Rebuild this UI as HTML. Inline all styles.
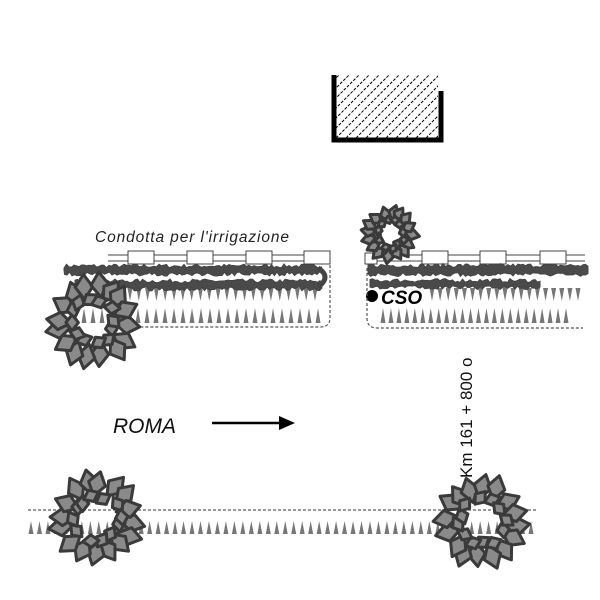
<!DOCTYPE html>
<html><head><meta charset="utf-8"><style>
html,body{margin:0;padding:0;background:#fff;width:600px;height:600px;overflow:hidden}
svg{display:block}
</style></head><body>
<svg id="s" width="600" height="600" viewBox="0 0 600 600" xmlns="http://www.w3.org/2000/svg">
<defs>
<clipPath id="bc"><rect x="336" y="75" width="102" height="63"/></clipPath>
</defs>
<g id="hatch" clip-path="url(#bc)" stroke="#000" stroke-width="1" stroke-dasharray="3,1.5"></g>
<path d="M334 75 V140 H441 V91" fill="none" stroke="#000" stroke-width="5"/>
<text x="95" y="242" font-family="Liberation Sans, sans-serif" font-style="italic" font-size="15.5" textLength="194" fill="#222">Condotta per l'irrigazione</text>
<text x="113" y="433" font-family="Liberation Sans, sans-serif" font-style="italic" font-size="21" fill="#111">ROMA</text>
<line x1="212" y1="423" x2="282" y2="423" stroke="#000" stroke-width="2.5"/>
<polygon points="295,423 279,416 279,430" fill="#000"/>
<circle cx="372" cy="296" r="6" fill="#000"/>
<text x="381" y="304" font-family="Liberation Sans, sans-serif" font-style="italic" font-weight="bold" font-size="19" fill="#000">CSO</text>
<text transform="translate(472,478) rotate(-90)" font-family="Liberation Sans, sans-serif" font-size="17" fill="#111">Km 161 + 800 o</text>
<g id="g"></g>
</svg>
<script>
var NS="http://www.w3.org/2000/svg",g=document.getElementById('g'),h=document.getElementById('hatch');
var seed=7;function rnd(){seed=(seed*16807)%2147483647;return seed/2147483647;}
function el(t,a,p){var e=document.createElementNS(NS,t);for(var k in a)e.setAttribute(k,a[k]);(p||g).appendChild(e);return e;}
for(var i=-80;i<120;i+=10){el('line',{x1:336+i,y1:138,x2:336+i+63,y2:75},h);}
el('line',{x1:28,y1:510,x2:536,y2:510,stroke:'#333','stroke-width':1,'stroke-dasharray':'3,2'});
el('path',{d:'M330 265 V318 Q330 327 320 327 H130',fill:'none',stroke:'#555','stroke-width':1.2,'stroke-dasharray':'3,2'});
el('path',{d:'M367 268 V318 Q367 328 377 328 H583',fill:'none',stroke:'#555','stroke-width':1.2,'stroke-dasharray':'3,2'});
function up(x0,x1,n,yb,ht,w){for(var i=0;i<n;i++){var x=x0+(x1-x0)*i/(n-1);el('polygon',{points:(x-w/2)+','+yb+' '+(x+w/2)+','+yb+' '+x+','+(yb-ht),fill:'#777'});}}
function dn(x0,x1,n,yt,ht,w){for(var i=0;i<n;i++){var x=x0+(x1-x0)*i/(n-1);el('polygon',{points:(x-w/2)+','+yt+' '+(x+w/2)+','+yt+' '+x+','+(yt+ht),fill:'#777'});}}
up(31,531,60,534,13,5);
up(84,318,27,323,15,5);
dn(130,315,22,288,13,5);
up(383,566,24,323,15,5);
dn(432,578,19,288,13,5);
function pipe(x0,x1,boxes){el('line',{x1:x0,y1:255,x2:x1,y2:255,stroke:'#444','stroke-width':1});el('line',{x1:x0,y1:261,x2:x1,y2:261,stroke:'#444','stroke-width':1});boxes.forEach(function(b){el('rect',{x:b,y:251,width:26,height:13,fill:'#fff',stroke:'#444','stroke-width':1});});}
pipe(108,330,[128,187,246,304]);
pipe(365,585,[422,480,540]);
el('rect',{x:365,y:253,width:12,height:11,fill:'#fff',stroke:'#444','stroke-width':1});
function band(x0,x1,y,th){var d='M'+x0+' '+y;for(var x=x0;x<=x1;x+=2.5){d+=' L'+x+' '+(y-th/2-rnd()*4);}for(var x=x1;x>=x0;x-=2.5){d+=' L'+x+' '+(y+th/2+rnd()*4);}d+='Z';el('path',{d:d,fill:'#4a4a4a',stroke:'#444','stroke-width':1});}
band(64,322,270,4);band(75,322,285,4);
el('path',{d:'M318 268 Q332 277 318 287',fill:'none',stroke:'#444','stroke-width':5});
band(368,588,270,5);band(370,540,284,3);
function leaf(x,y,a,L,W){var ca=Math.cos(a),sa=Math.sin(a);var pts=[[x+ca*L/2,y+sa*L/2],[x-sa*W,y+ca*W],[x-ca*L/2,y-sa*L/2],[x+sa*W,y-ca*W]];el('polygon',{points:pts.map(function(p){return p[0].toFixed(1)+','+p[1].toFixed(1)}).join(' '),fill:'#8a8a8a',stroke:'#3a3a3a','stroke-width':3,'stroke-linejoin':'round'});}
function wreath(cx,cy,s){var n=16;for(var i=0;i<n;i++){var a=2*Math.PI*i/n+rnd()*0.2;var rr=(26+rnd()*4)*s;leaf(cx+rr*Math.cos(a),cy+rr*Math.sin(a),a+(rnd()-0.5)*0.6,20*s,7*s);}
var m=12;for(var i=0;i<m;i++){var a=2*Math.PI*i/m+0.25+rnd()*0.3;var rr=(16+rnd()*4)*s;leaf(cx+rr*Math.cos(a),cy+rr*Math.sin(a),a+1.2+(rnd()-0.5),13*s,5*s);}}
wreath(93,321,1.25);
wreath(97,518,1.25);
wreath(482,522,1.25);
wreath(390,234,0.75);
</script>
</body></html>
